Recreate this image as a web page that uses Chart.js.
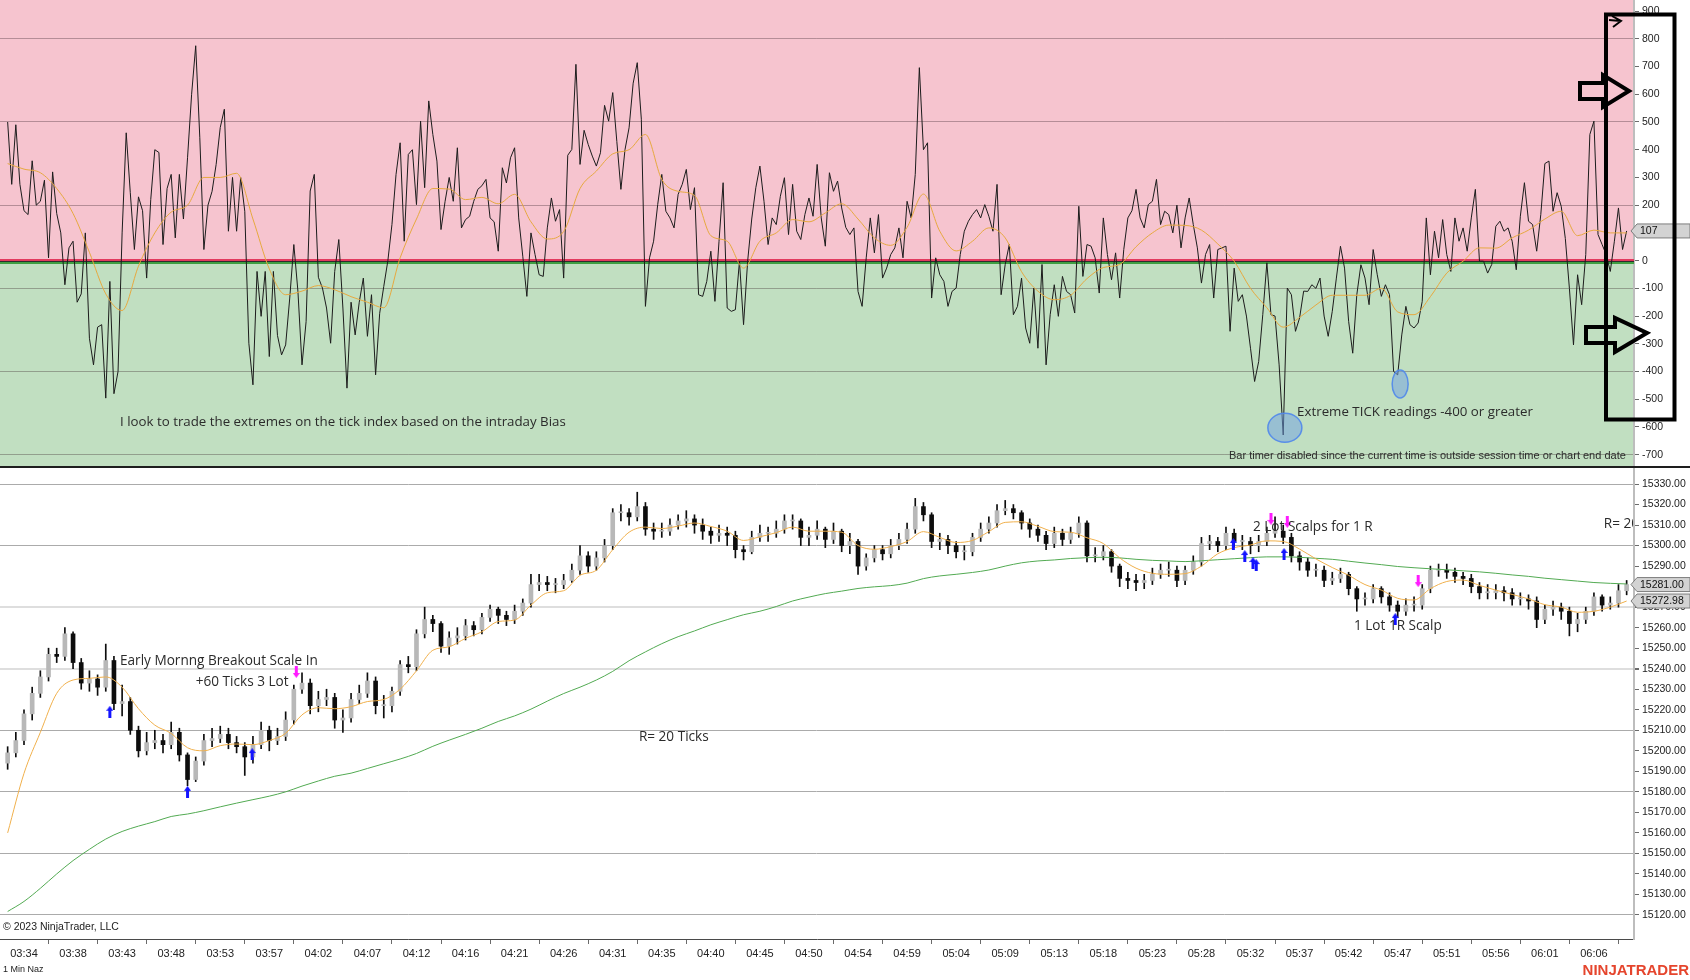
<!DOCTYPE html>
<html lang="en">
<head>
    <meta charset="UTF-8">
    <meta name="viewport" content="width=device-width, initial-scale=1.0">
    <script src="https://cdn.jsdelivr.net/npm/chart.js"></script>
    <title>1 Min Naz</title>
    <style>
        body { margin: 0; background: #fff; }
        #wrap { position: relative; width: 1690px; height: 980px; overflow: hidden; }
        #wrap canvas { position: absolute; left: 0; }
    </style>
</head>
<body>
<div id="wrap">
    <canvas id="tickChart" width="1690" height="468" style="top:0"></canvas>
    <canvas id="priceChart" width="1690" height="512" style="top:468px"></canvas>
</div>

<script>
// ---- data (x is the bar slot, one slot = one candle) ----
const timeLabels = ['03:34','03:38','03:43','03:48','03:53','03:57','04:02','04:07','04:12','04:16','04:21',
    '04:26','04:31','04:35','04:40','04:45','04:50','04:54','04:59','05:04','05:09','05:13','05:18','05:23',
    '05:28','05:32','05:37','05:42','05:47','05:51','05:56','06:01','06:06'];

// TICK index, every half slot from slot -2
const tickValues = [
    500,275,490,275,180,166,360,200,214,290, 10,320,170,100,-87,46,70,-150,-120,100,
    -280,-376,-240,-231,-496,-75,-480,-400,100,461, 245,40,230,180,-63,220,400,390,58,260,
    311,82,311,150,371,600,775,443,40,200, 250,347,480,546,106,300,106,300,178,-298,
    -448,-39,-201,-39,-346,-39,-270,-340,-304,-135, 58,-110,-376,-220,251,311,-60,-99,-171,-298,
    -39,76,-171,-460,-150,-268,-150,-63,-273,-123, -412,-190,-93,0,130,311,425,70,383,400,
    202,503,263,576,455,359,112,214,300,214, 407,118,148,160,214,257,270,293,154,140,
    34,335,280,371,407,154,16,-129,100,22, -51,-57,118,226,142,184,
    -63,380,401,708,347,470,419,377,341,389, 560,503,606,430,257,400,479,640,714,510,
    -165,10,70,202,311,178,154,118,239,275, 329,184,263,-123,-129,-75,34,-147,70,281,
    -171,-183,-177,-2,-231,-2,150,263,341,214, 58,154,130,232,299,94,275,106,76,166,
    226,160,347,154,52,317,250,287,190,120, 94,118,-111,-165,10,154,28,166,-63,-27,
    22,46,118,10,214,154,311,696,400,425, -135,10,-51,-75,-165,-111,-99,22,106,142,
    166,184,154,202,160,106,275,-123,-14,58, -195,-165,-63,-243,-298,-99,-316,-14,-376,-195,
    -87,-201,-57,-111,-123,-189,196,-57,58,52, 10,-117,154,22,-69,28,-135,
    40,154,180,257,154,118,202,214,293,130, 178,166,100,200,46,154,226,130,46,-81,
    22,58,-135,40,46,52,-255,-27,-147,-123, -200,-316,-436,-364,-195,-8,-195,-200,-376,-629,
    -99,-123,-255,-207,-110,-111,-87,-100,-63,-200, -273,-183,-63,52,-27,-219,-334,-123,-15,-63,
    -159,40,-51,-129,-87,-123,-400,-412,-268,-165, -231,-243,-225,-147,154,-51,106,10,148,22,
    -39,154,70,118,34,154,257,-2,-2,-45, -14,124,142,106,118,70,-33,160,281,142,
    130,34,166,350,359,178,245,196,80,-100, -304,-51,-159,22,455,503,94,58,22,-39,
    70,190,40,107
];

// TICK average, every 2 slots from slot -2
const tickAverage = [
    350,330,317,260,170,30,-120,-180,-20,100,175,200,300,300,315,150,-30,-123,-110,-90,
    -105,-130,-150,-170,10,150,260,258,220,228,205,239,140,78,
    105,260,323,385,400,455,293,250,235,90,70,-27,70,100,148,140,172,205,150,82,
    55,120,240,106,35,70,118,82,-40,-110,-141,-125,-65,-25,
    -14,50,100,128,127,110,60,-2,-100,-170,-240,-205,-160,-125,-125,-125,-100,-185,-195,-130,
    -45,-2,46,45,82,110,150,178,90,110,100,100
];

// candles, one per slot from slot -2
const opens = [
    15194,15199,15205,15218,15228,15236,15247,15246,15257,15243, 15233,15235,15231,15244,15223,15224,15210,15200,15204,15205,
    15203,15209,15198,15186,15195,15205,15206,15208,15204,15202, 15197,15203,15210,15205,15207,15215,15230,15233,15222,15225,
    15226,15215,15216,15225,15228,15234,15222,15222,15229,15242, 15241,15257,15264,15262,15251,15255,15256,15261,15259,15265,
    15269,15266,15264,15268,15272,15281,15282,15281,15281,15283, 15288,15295,15290,15294,15300,15316,15316,15314,15319,15308,
    15307,15307,15310,15312,15313,15310,15307,15305,15306,15305, 15298,15297,15304,15306,15306,15308,15312,15312,15304,15305,
    15308,15303,15307,15300,15302,15290,15294,15298,15296,15300, 15303,15308,15319,15315,15302,15303,15300,15297,15297,15304,
    15308,15311,15317,15318,15316,15311,15308,15305,15301,15306, 15303,15306,15311,15295,15295,15297,15290,15284,15283,15282,
    15283,15286,15288,15288,15283,15288,15292,15301,15302,15300, 15306,15302,15302,15300,15302,15306,15307,15304,15295,15292,
    15288,15288,15283,15284,15286,15279,15274,15274,15279,15275, 15271,15268,15271,15271,15279,15288,15288,15287,15285,15284,
    15280,15277,15277,15278,15277,15274,15274,15273,15264,15269, 15270,15268,15262,15264,15268,15275,15271,15272,15278
];
const highs = [
    15202,15209,15220,15231,15239,15250,15250,15260,15258,15245, 15239,15237,15252,15246,15232,15226,15212,15209,15210,15208,
    15214,15211,15199,15197,15208,15211,15212,15211,15207,15204, 15207,15214,15212,15211,15219,15232,15238,15235,15229,15230,
    15228,15220,15228,15232,15238,15236,15227,15231,15244,15246, 15259,15270,15266,15263,15258,15260,15264,15263,15267,15271,
    15270,15268,15271,15274,15286,15286,15285,15284,15286,15291, 15300,15297,15297,15303,15318,15320,15318,15326,15321,15311,
    15311,15313,15315,15317,15315,15313,15309,15310,15309,15307, 15300,15307,15310,15309,15312,15315,15315,15313,15309,15312,
    15309,15311,15308,15306,15303,15296,15300,15300,15303,15306, 15311,15323,15321,15316,15306,15305,15302,15300,15306,15311,
    15314,15320,15322,15320,15317,15313,15310,15307,15309,15308, 15309,15314,15312,15299,15300,15298,15291,15287,15286,15286,
    15289,15291,15292,15290,15290,15295,15304,15305,15304,15309, 15308,15305,15304,15305,15309,15314,15310,15306,15297,15294,
    15291,15290,15287,15289,15287,15280,15277,15281,15280,15277, 15273,15274,15275,15281,15290,15291,15291,15289,15287,15286,
    15282,15281,15281,15280,15279,15277,15276,15275,15271,15273, 15272,15270,15267,15270,15277,15276,15275,15281,15283
];
const lows = [
    15191,15197,15203,15215,15226,15234,15243,15244,15240,15230, 15229,15227,15229,15220,15217,15208,15197,15198,15201,15199,
    15201,15195,15183,15185,15193,15202,15204,15201,15199,15188, 15194,15201,15200,15203,15205,15213,15228,15218,15219,15222,
    15211,15209,15214,15223,15226,15218,15216,15219,15227,15238, 15239,15255,15258,15248,15247,15252,15254,15256,15257,15263,
    15262,15261,15262,15266,15270,15278,15278,15277,15279,15282, 15286,15287,15288,15292,15298,15312,15310,15312,15305,15303,
    15304,15305,15308,15309,15306,15303,15301,15302,15300,15294, 15293,15296,15302,15302,15304,15306,15308,15300,15300,15303,
    15299,15301,15297,15296,15286,15288,15292,15293,15294,15298, 15301,15306,15312,15299,15298,15296,15294,15293,15295,15302,
    15306,15309,15315,15313,15308,15304,15302,15298,15299,15300, 15301,15304,15292,15292,15293,15287,15280,15279,15278,15279,
    15281,15284,15285,15280,15281,15286,15290,15298,15297,15298, 15299,15298,15296,15297,15300,15304,15301,15292,15288,15285,
    15285,15280,15281,15282,15276,15268,15271,15272,15272,15268, 15265,15266,15268,15269,15277,15285,15284,15282,15281,15277,
    15274,15274,15274,15273,15271,15271,15269,15260,15262,15266, 15264,15256,15258,15262,15266,15268,15269,15270,15276
];
const closes = [
    15199,15205,15218,15228,15236,15247,15246,15257,15243,15233, 15235,15231,15244,15223,15224,15210,15200,15204,15205,15203,
    15209,15198,15186,15195,15205,15206,15208,15204,15202,15197, 15203,15210,15205,15207,15215,15230,15233,15222,15225,15226,
    15215,15216,15225,15228,15234,15222,15222,15229,15242,15241, 15257,15264,15262,15251,15255,15256,15261,15259,15265,15269,
    15266,15264,15268,15272,15281,15282,15281,15281,15283,15288, 15295,15290,15294,15300,15316,15316,15314,15319,15308,15307,
    15307,15310,15312,15313,15310,15307,15305,15306,15305,15298, 15297,15304,15306,15306,15308,15312,15312,15304,15305,15308,
    15303,15307,15300,15302,15290,15294,15298,15296,15300,15303, 15308,15319,15315,15302,15303,15300,15297,15297,15304,15308,
    15311,15317,15318,15316,15311,15308,15305,15301,15306,15303, 15306,15311,15295,15295,15297,15290,15284,15283,15282,15283,
    15286,15288,15288,15283,15288,15292,15301,15302,15300,15306, 15302,15302,15300,15302,15306,15307,15304,15295,15292,15288,
    15288,15283,15284,15286,15279,15274,15274,15279,15275,15271, 15268,15271,15271,15279,15288,15288,15287,15285,15284,15280,
    15277,15277,15278,15277,15274,15274,15273,15264,15269,15270, 15268,15262,15264,15268,15275,15271,15272,15278,15281
];

// price averages, every 2 slots from slot -2
const priceAverage = [
    15160,15189,15209,15228,15234.5,15235.3,15236,15231,15220.5,15212.5,15208.5,15201.5,15200,15202.5,15203.3,15203,15205,
    15208.5,15217.5,15221,15220.5,15221.5,15224,15225,15230,15239,15249,15250.7,15254.8,15258,15263,15263.7,15271,15277,
    15278,15285.5,15288,15298,15306.5,15309,15308.3,15309.5,15311,15309.3,15307,15302.5,15304.3,15306.3,15309,15307,15307,
    15306.5,15300,15298.2,15299.5,15302,15306.8,15304,15301.5,15302.5,15306.8,15311.3,15311.6,15309.4,15306.8,15306.5,15303.8,15301,
    15294,15289,15286.5,15286,15286.3,15290,15296,15299,15300.3,15302.3,15302,15298.3,15293.5,15289.3,15285.5,15281,
    15278.3,15274.3,15273.5,15279,15282.5,15283.2,15280.6,15278.3,15276.2,15274,15271.2,15270,15267.5,15268,15270,15272.98
];
const priceLong = [
    15121.7,15126.6,15133,15140,15146.5,15152,15157,15160.7,15163.3,15165.5,15168,15169.2,15170.8,15172.7,15174.5,15176.2,15177.9,
    15180,15182.8,15185.3,15187.6,15189.1,15191.4,15193.7,15196,15198.7,15202.2,15205.2,15208,15211,15214.3,15217,15220.3,15224.2,
    15227.9,15231,15234.5,15238.7,15243.9,15248.2,15252.2,15255.6,15258.4,15261.4,15263.9,15266.3,15268,15270.3,15273,15274.9,
    15276.6,15277.8,15279.1,15279.9,15280.5,15281.7,15283.9,15285.2,15286,15286.9,15288.1,15290,15291.6,15292.5,15293,15293.7,
    15294.1,15294.3,15294,
    15293.3,15292.8,15292.5,15292.2,15292.6,15293.1,15293.6,15294.1,15294.5,15294.5,15294.3,15293.8,15293.3,15292.4,15291.5,
    15290.7,15289.8,15289.2,15288.7,15288.2,15287.7,15287.2,15286.5,15285.7,15285,15284.1,15283.4,15282.7,15282,15281.6,15281.3
];

// trade markers (slot, price)
const buySlots = [10.5, 20, 27.9, 147.9, 149.3, 150.3, 150.7, 154.1, 167.7];
const buyPrices = [15219, 15180, 15198.4, 15300.8, 15294.9, 15291.5, 15290.5, 15295.9, 15264.2];
const sellSlots = [33.3, 152.5, 154.5, 170.5];
const sellPrices = [15238.4, 15313, 15311.5, 15282.7];

// ---- helpers ----
const X_MIN = -2.935, X_MAX = 196.9;
const AXIS_W = 56;
const FONT_AXIS = '"Liberation Sans", Arial, sans-serif';
const FONT_NOTE = '"Open Sans", "Noto Sans", sans-serif';

const atSteps = (values, start, step) => values.map((y, i) => ({ x: start + i * step, y: y }));
const slots = closes.map((c, i) => -2 + i);

// no label overhang padding, the panels butt against each other
function fitRight(s) {
    s.width = AXIS_W;
    s.paddingTop = 0;
    s.paddingBottom = 0;
}

function arrowMark(color, up) {
    const c = document.createElement('canvas');
    c.width = 7; c.height = 12;
    const g = c.getContext('2d');
    g.fillStyle = color;
    g.beginPath();
    const pts = [[3.5,0],[7,5],[5,5],[5,12],[2,12],[2,5],[0,5]];
    pts.forEach(([px, py], i) => {
        const yy = up ? py : 12 - py;
        if (i === 0) g.moveTo(px, yy); else g.lineTo(px, yy);
    });
    g.closePath();
    g.fill();
    return c;
}

function drawTag(ctx, left, cy, text) {
    const h = 14;
    ctx.beginPath();
    ctx.moveTo(left, cy);
    ctx.lineTo(left + 6, cy - h / 2);
    ctx.lineTo(1690, cy - h / 2);
    ctx.lineTo(1690, cy + h / 2);
    ctx.lineTo(left + 6, cy + h / 2);
    ctx.closePath();
    ctx.fillStyle = '#d3d3d3';
    ctx.fill();
    ctx.strokeStyle = '#7d7d7d';
    ctx.lineWidth = 1;
    ctx.stroke();
    ctx.fillStyle = '#111';
    ctx.font = '10.5px ' + FONT_AXIS;
    ctx.textAlign = 'left';
    ctx.textBaseline = 'middle';
    ctx.fillText(text, left + 9, cy + 0.5);
}

function outlineArrow(ctx, pts) {
    ctx.beginPath();
    pts.forEach(([px, py], i) => i ? ctx.lineTo(px, py) : ctx.moveTo(px, py));
    ctx.closePath();
    ctx.stroke();
}

// ---- top panel: TICK ----
const tickPanel = {
    id: 'tickPanel',
    beforeDraw(chart) {
        const { ctx, chartArea: a, scales: { y } } = chart;
        const z = y.getPixelForValue(0);
        ctx.save();
        ctx.fillStyle = '#f6c4cf';
        ctx.fillRect(a.left, a.top, a.right - a.left, z - a.top);
        ctx.fillStyle = '#c1dfc1';
        ctx.fillRect(a.left, z, a.right - a.left, a.bottom - z);
        ctx.restore();
    },
    beforeDatasetsDraw(chart) {
        const { ctx, chartArea: a, scales: { y } } = chart;
        const z = Math.round(y.getPixelForValue(0));
        const w = a.right - a.left;
        ctx.save();
        ctx.fillStyle = '#e23a5e'; ctx.fillRect(a.left, z - 2, w, 2);
        ctx.fillStyle = '#2d2d2d'; ctx.fillRect(a.left, z, w, 1);
        ctx.fillStyle = '#3f9f43'; ctx.fillRect(a.left, z + 1, w, 2);
        ctx.restore();
    },
    afterDraw(chart) {
        const { ctx, scales: { x, y } } = chart;
        ctx.save();
        // highlighted extremes
        ctx.fillStyle = 'rgba(112,160,228,0.5)';
        ctx.strokeStyle = 'rgba(80,135,235,0.9)';
        ctx.lineWidth = 1.5;
        [[154.2, -603, 17, 14.5], [168.3, -445, 8, 14]].forEach(([sx, sv, rx, ry]) => {
            ctx.beginPath();
            ctx.ellipse(x.getPixelForValue(sx), y.getPixelForValue(sv), rx, ry, 0, 0, Math.PI * 2);
            ctx.fill();
            ctx.stroke();
        });

        ctx.fillStyle = '#2b2b2b';
        ctx.textBaseline = 'middle';
        ctx.font = '13.3px ' + FONT_NOTE;
        ctx.fillText('I look to trade the extremes on the tick index based on the intraday Bias',
            x.getPixelForValue(11.74), y.getPixelForValue(-582));
        ctx.fillText('Extreme TICK readings -400 or greater', x.getPixelForValue(155.7), y.getPixelForValue(-546));
        ctx.font = '11px ' + FONT_AXIS;
        ctx.textAlign = 'right';
        ctx.fillText('Bar timer disabled since the current time is outside session time or chart end date',
            x.getPixelForValue(195.9), y.getPixelForValue(-705));

        drawTag(ctx, 1631, y.getPixelForValue(tickValues[tickValues.length - 1]), String(tickValues[tickValues.length - 1]));

        // hand drawn box and arrows
        ctx.strokeStyle = '#000';
        ctx.lineWidth = 4;
        ctx.lineJoin = 'miter';
        ctx.strokeRect(1606, 14.5, 68.5, 405);
        outlineArrow(ctx, [[1580,83],[1603,83],[1603,75],[1629,91],[1603,107],[1603,99],[1580,99]]);
        outlineArrow(ctx, [[1586,327],[1615,327],[1615,318],[1647,333],[1615,352],[1615,343],[1586,343]]);
        ctx.lineWidth = 2;
        ctx.beginPath();
        ctx.moveTo(1612, 16); ctx.lineTo(1621, 21); ctx.lineTo(1613, 27);
        ctx.moveTo(1609, 20); ctx.lineTo(1621, 21);
        ctx.stroke();

        // panel separator
        ctx.fillStyle = '#1e1e1e';
        ctx.fillRect(0, chart.height - 2, chart.width, 2);
        ctx.restore();
    }
};

new Chart(document.getElementById('tickChart'), {
    type: 'line',
    data: {
        datasets: [{
            data: atSteps(tickAverage, -2, 2),
            borderColor: '#e7a93f',
            borderWidth: 1,
            pointRadius: 0,
            cubicInterpolationMode: 'monotone',
            order: 1
        }, {
            data: atSteps(tickValues, -2, 0.5),
            borderColor: '#1c1c1c',
            borderWidth: 1,
            pointRadius: 0,
            tension: 0,
            order: 2
        }]
    },
    options: {
        responsive: false,
        animation: false,
        events: [],
        layout: { padding: 0, autoPadding: false },
        plugins: { legend: { display: false }, tooltip: { enabled: false } },
        scales: {
            x: { type: 'linear', min: X_MIN, max: X_MAX, display: false },
            y: {
                position: 'right',
                min: -748, max: 940,
                afterFit: fitRight,
                afterBuildTicks: s => {
                    s.ticks = [];
                    for (let v = -700; v <= 900; v += 100) s.ticks.push({ value: v });
                },
                border: { display: true, color: '#bdbdbd', width: 2 },
                grid: {
                    color: c => ((c.tick.value - 800) % 300 === 0 ? 'rgba(60,40,45,0.35)' : 'rgba(0,0,0,0)'),
                    tickColor: '#6b6b6b',
                    tickLength: 5
                },
                ticks: {
                    autoSkip: false,
                    padding: 3,
                    color: '#222',
                    font: { family: FONT_AXIS, size: 10.5 }
                }
            }
        }
    },
    plugins: [tickPanel]
});

// ---- bottom panel: price ----
const pricePanel = {
    id: 'pricePanel',
    afterDraw(chart) {
        const { ctx, scales: { x, y } } = chart;
        ctx.save();
        ctx.fillStyle = '#2b2b2b';
        ctx.textBaseline = 'middle';
        ctx.font = '13.6px ' + FONT_NOTE;
        const notes = [
            ['Early Mornng Breakout Scale In', 11.74, 15243.7],
            ['+60 Ticks 3 Lot', 21.0, 15233.5],
            ['R= 20 Ticks', 75.2, 15206.7],
            ['2 Lot Scalps for 1 R', 150.3, 15309],
            ['1 Lot 1R Scalp', 162.65, 15260.8]
        ];
        notes.forEach(([t, sx, p]) => ctx.fillText(t, x.getPixelForValue(sx), y.getPixelForValue(p)));
        ctx.save();
        ctx.beginPath();
        ctx.rect(0, 0, chart.chartArea.right - 1, chart.height);
        ctx.clip();
        ctx.fillText('R= 20 Ticks', x.getPixelForValue(193.2), y.getPixelForValue(15310.5));
        ctx.restore();

        drawTag(ctx, 1631, y.getPixelForValue(closes[closes.length - 1]), closes[closes.length - 1].toFixed(2));
        drawTag(ctx, 1631, y.getPixelForValue(priceAverage[priceAverage.length - 1]), priceAverage[priceAverage.length - 1].toFixed(2));

        ctx.fillStyle = '#222';
        ctx.textAlign = 'left';
        ctx.font = '10.5px ' + FONT_AXIS;
        ctx.fillText('\u00a9 2023 NinjaTrader, LLC', 3, 459);
        ctx.font = '9px ' + FONT_AXIS;
        ctx.fillText('1 Min Naz', 3, 502);
        ctx.font = 'bold 15px ' + FONT_AXIS;
        ctx.fillStyle = '#e5452d';
        ctx.textAlign = 'right';
        ctx.fillText('NINJATRADER', 1689, 503);
        ctx.restore();
    }
};

new Chart(document.getElementById('priceChart'), {
    type: 'bar',
    data: {
        datasets: [{
            type: 'line',
            data: buySlots.map((s, i) => ({ x: s, y: buyPrices[i] })),
            showLine: false,
            pointStyle: arrowMark('#1414ff', true),
            pointRadius: 6,
            order: 0
        }, {
            type: 'line',
            data: sellSlots.map((s, i) => ({ x: s, y: sellPrices[i] })),
            showLine: false,
            pointStyle: arrowMark('#ff1aff', false),
            pointRadius: 6,
            order: 0
        }, {
            type: 'line',
            data: atSteps(priceAverage, -2, 2),
            borderColor: '#f0b04c',
            borderWidth: 1,
            pointRadius: 0,
            cubicInterpolationMode: 'monotone',
            order: 1
        }, {
            type: 'line',
            data: atSteps(priceLong, -2, 2),
            borderColor: '#52aa52',
            borderWidth: 1,
            pointRadius: 0,
            cubicInterpolationMode: 'monotone',
            order: 2
        }, {
            data: slots.map((s, i) => ({ x: s, y: [opens[i], closes[i]] })),
            backgroundColor: closes.map((c, i) => (c >= opens[i] ? '#b8b8b8' : '#0d0d0d')),
            barThickness: 4,
            minBarLength: 1,
            grouped: false,
            order: 3
        }, {
            data: slots.map((s, i) => ({ x: s, y: [lows[i], highs[i]] })),
            backgroundColor: '#0d0d0d',
            barThickness: 1,
            grouped: false,
            order: 4
        }]
    },
    options: {
        responsive: false,
        animation: false,
        events: [],
        layout: { padding: 0, autoPadding: false },
        plugins: { legend: { display: false }, tooltip: { enabled: false } },
        scales: {
            x: {
                type: 'linear',
                min: X_MIN, max: X_MAX,
                offset: false,
                afterFit: s => { s.height = 41; s.paddingLeft = 0; s.paddingRight = 0; },
                afterBuildTicks: s => { s.ticks = timeLabels.map((t, i) => ({ value: i * 6 })); },
                border: { display: true, color: '#4a4a4a', width: 1 },
                grid: { drawOnChartArea: false, tickColor: '#6b6b6b', tickLength: 5 },
                ticks: {
                    autoSkip: false,
                    maxRotation: 0,
                    padding: 3,
                    color: '#222',
                    font: { family: FONT_AXIS, size: 11 },
                    callback: (v, i) => timeLabels[i]
                }
            },
            y: {
                position: 'right',
                min: 15108.3, max: 15337.8,
                afterFit: fitRight,
                afterBuildTicks: s => {
                    s.ticks = [];
                    for (let v = 15120; v <= 15330; v += 10) s.ticks.push({ value: v });
                },
                border: { display: true, color: '#bdbdbd', width: 2 },
                grid: {
                    color: c => {
                        const v = c.tick.value;
                        if (v === 15270 || v === 15240) return '#dedede';
                        return (v - 15120) % 30 === 0 ? '#ababab' : 'rgba(0,0,0,0)';
                    },
                    lineWidth: c => (c.tick.value === 15270 || c.tick.value === 15240 ? 2 : 1),
                    tickColor: '#6b6b6b',
                    tickLength: 5
                },
                ticks: {
                    autoSkip: false,
                    padding: 3,
                    color: '#222',
                    font: { family: FONT_AXIS, size: 10.5 },
                    callback: v => v.toFixed(2)
                }
            }
        }
    },
    plugins: [pricePanel]
});
</script>
</body>
</html>
